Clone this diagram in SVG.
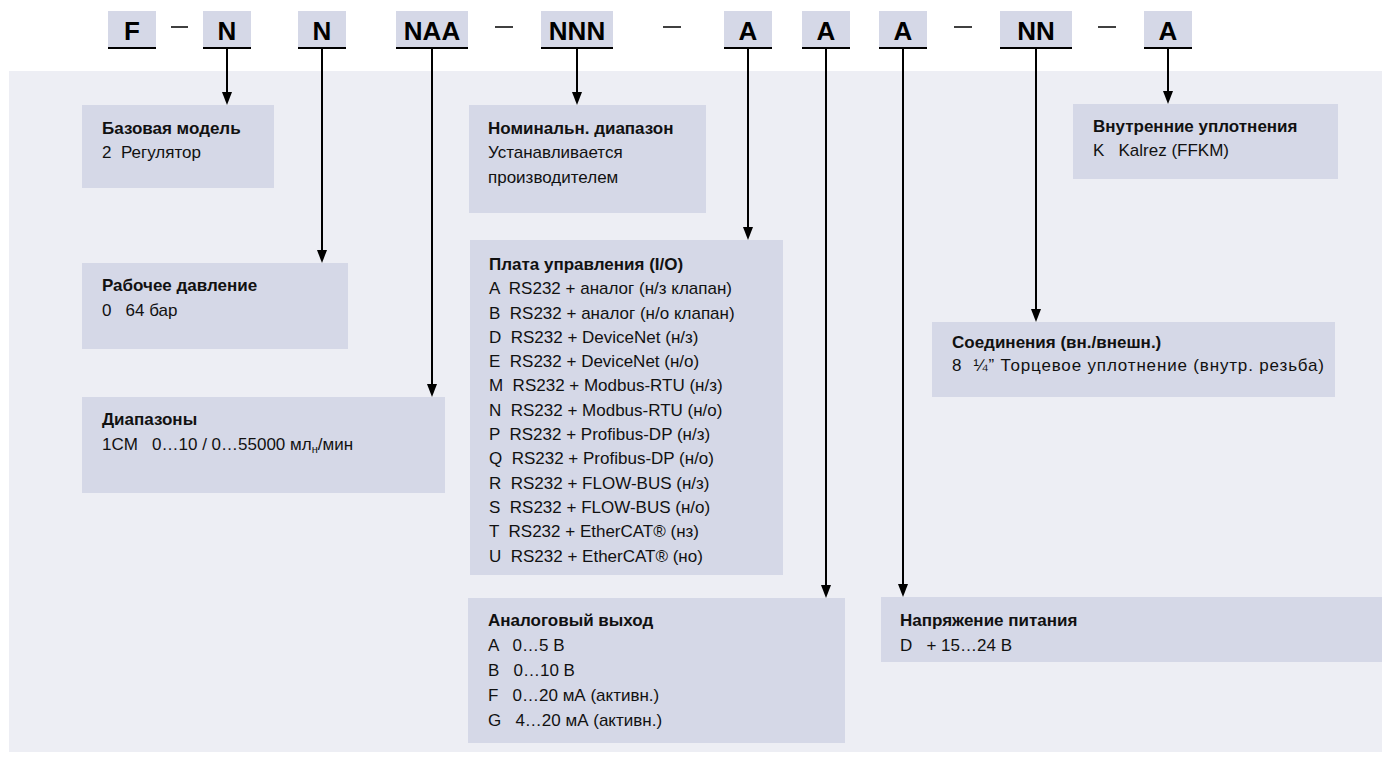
<svg xmlns="http://www.w3.org/2000/svg" width="1391" height="763" viewBox="0 0 1391 763">
<defs>
<style>
.bg{fill:#EDEEF4}
.box{fill:#D5D8E7}
.ul{stroke:#000;stroke-width:2}
.dash{stroke:#000;stroke-width:1.5}
.code{font-family:"Liberation Sans",Arial,sans-serif;font-weight:bold;font-size:26px;fill:#000;text-anchor:middle}
.t{font-family:"Liberation Sans",Arial,sans-serif;font-size:17px;fill:#111;white-space:pre}
.b{font-family:"Liberation Sans",Arial,sans-serif;font-size:17px;font-weight:bold;fill:#111;white-space:pre}
.c{stroke:#000;stroke-width:2;fill:none;marker-end:url(#ah)}
</style>
<marker id="ah" markerUnits="userSpaceOnUse" markerWidth="13" markerHeight="10" refX="0" refY="5" orient="auto"><path d="M0,0 L13,5 L0,10 z" fill="#000"/></marker>
</defs>
<rect class="bg" x="9" y="71" width="1373" height="681"/>
<g id="header">
<rect class="box" x="108" y="11" width="48" height="38"/><line class="ul" x1="108" y1="48" x2="156" y2="48"/><text class="code" x="132" y="40">F</text>
<line class="dash" x1="171" y1="27" x2="188" y2="27"/>
<rect class="box" x="203" y="11" width="48" height="38"/><line class="ul" x1="203" y1="48" x2="251" y2="48"/><text class="code" x="227" y="40">N</text>
<rect class="box" x="298" y="11" width="48" height="38"/><line class="ul" x1="298" y1="48" x2="346" y2="48"/><text class="code" x="322" y="40">N</text>
<rect class="box" x="396" y="11" width="72" height="38"/><line class="ul" x1="396" y1="48" x2="468" y2="48"/><text class="code" x="432" y="40">NAA</text>
<line class="dash" x1="495" y1="27" x2="513" y2="27"/>
<rect class="box" x="541" y="11" width="72" height="38"/><line class="ul" x1="541" y1="48" x2="613" y2="48"/><text class="code" x="577" y="40">NNN</text>
<line class="dash" x1="663" y1="27" x2="681" y2="27"/>
<rect class="box" x="724" y="11" width="48" height="38"/><line class="ul" x1="724" y1="48" x2="772" y2="48"/><text class="code" x="748" y="40">A</text>
<rect class="box" x="802" y="11" width="48" height="38"/><line class="ul" x1="802" y1="48" x2="850" y2="48"/><text class="code" x="826" y="40">A</text>
<rect class="box" x="879" y="11" width="48" height="38"/><line class="ul" x1="879" y1="48" x2="927" y2="48"/><text class="code" x="903" y="40">A</text>
<line class="dash" x1="954" y1="27" x2="972" y2="27"/>
<rect class="box" x="1000" y="11" width="72" height="38"/><line class="ul" x1="1000" y1="48" x2="1072" y2="48"/><text class="code" x="1036" y="40">NN</text>
<line class="dash" x1="1098" y1="27" x2="1116" y2="27"/>
<rect class="box" x="1144" y="11" width="48" height="38"/><line class="ul" x1="1144" y1="48" x2="1192" y2="48"/><text class="code" x="1168" y="40">A</text>
</g>
<g id="connectors">
<path class="c" d="M227,49 V92"/>
<path class="c" d="M322,49 V250"/>
<path class="c" d="M432,49 V384"/>
<path class="c" d="M577,49 V92"/>
<path class="c" d="M748,49 V227"/>
<path class="c" d="M826,49 V585"/>
<path class="c" d="M903,49 V584"/>
<path class="c" d="M1036,49 V309"/>
<path class="c" d="M1168,49 V91"/>
</g>
<g id="base-model">
<rect class="box" x="82" y="105" width="192" height="83"/>
<text class="b" x="102" y="134">Базовая модель</text>
<text class="t" x="102" y="158" xml:space="preserve">2  Регулятор</text>
</g>
<g id="pressure">
<rect class="box" x="82" y="263" width="266" height="86"/>
<text class="b" x="102" y="291">Рабочее давление</text>
<text class="t" x="102" y="316" xml:space="preserve">0   64 бар</text>
</g>
<g id="ranges">
<rect class="box" x="82" y="397" width="363" height="96"/>
<text class="b" x="102" y="425">Диапазоны</text>
<text class="t" x="102" y="450" xml:space="preserve">1CM   0…10 / 0…55000 мл<tspan font-size="11" dy="3">н</tspan><tspan dy="-3">/мин</tspan></text>
</g>
<g id="nominal">
<rect class="box" x="469" y="105" width="237" height="108"/>
<text class="b" x="488" y="134">Номинальн. диапазон</text>
<text class="t" x="488" y="158">Устанавливается</text>
<text class="t" x="488" y="183">производителем</text>
</g>
<g id="io-board">
<rect class="box" x="470" y="240" width="313" height="335"/>
<text class="b" x="489" y="270">Плата управления (I/O)</text>
<text class="t" x="489" y="294" xml:space="preserve">A  RS232 + аналог (н/з клапан)</text>
<text class="t" x="489" y="319" xml:space="preserve">B  RS232 + аналог (н/о клапан)</text>
<text class="t" x="489" y="343" xml:space="preserve">D  RS232 + DeviceNet (н/з)</text>
<text class="t" x="489" y="367" xml:space="preserve">E  RS232 + DeviceNet (н/о)</text>
<text class="t" x="489" y="391" xml:space="preserve">M  RS232 + Modbus-RTU (н/з)</text>
<text class="t" x="489" y="416" xml:space="preserve">N  RS232 + Modbus-RTU (н/о)</text>
<text class="t" x="489" y="440" xml:space="preserve">P  RS232 + Profibus-DP (н/з)</text>
<text class="t" x="489" y="464" xml:space="preserve">Q  RS232 + Profibus-DP (н/о)</text>
<text class="t" x="489" y="489" xml:space="preserve">R  RS232 + FLOW-BUS (н/з)</text>
<text class="t" x="489" y="513" xml:space="preserve">S  RS232 + FLOW-BUS (н/о)</text>
<text class="t" x="489" y="537" xml:space="preserve">T  RS232 + EtherCAT® (нз)</text>
<text class="t" x="489" y="562" xml:space="preserve">U  RS232 + EtherCAT® (но)</text>
</g>
<g id="analog-out">
<rect class="box" x="468" y="598" width="377" height="145"/>
<text class="b" x="488" y="626">Аналоговый выход</text>
<text class="t" x="488" y="651" xml:space="preserve">A   0…5 В</text>
<text class="t" x="488" y="676" xml:space="preserve">B   0…10 В</text>
<text class="t" x="488" y="701" xml:space="preserve">F   0…20 мА (активн.)</text>
<text class="t" x="488" y="726" xml:space="preserve">G   4…20 мА (активн.)</text>
</g>
<g id="supply">
<rect class="box" x="881" y="597" width="501" height="65"/>
<text class="b" x="900" y="626">Напряжение питания</text>
<text class="t" x="900" y="651" xml:space="preserve">D   + 15…24 В</text>
</g>
<g id="connections">
<rect class="box" x="932" y="322" width="403" height="75"/>
<text class="b" x="952" y="348">Соединения (вн./внешн.)</text>
<text class="t" x="952" y="371" xml:space="preserve" textLength="372" lengthAdjust="spacing">8  ¼” Торцевое уплотнение (внутр. резьба)</text>
</g>
<g id="seals">
<rect class="box" x="1073" y="104" width="265" height="75"/>
<text class="b" x="1093" y="132">Внутренние уплотнения</text>
<text class="t" x="1093" y="156" xml:space="preserve">K   Kalrez (FFKM)</text>
</g>
</svg>
